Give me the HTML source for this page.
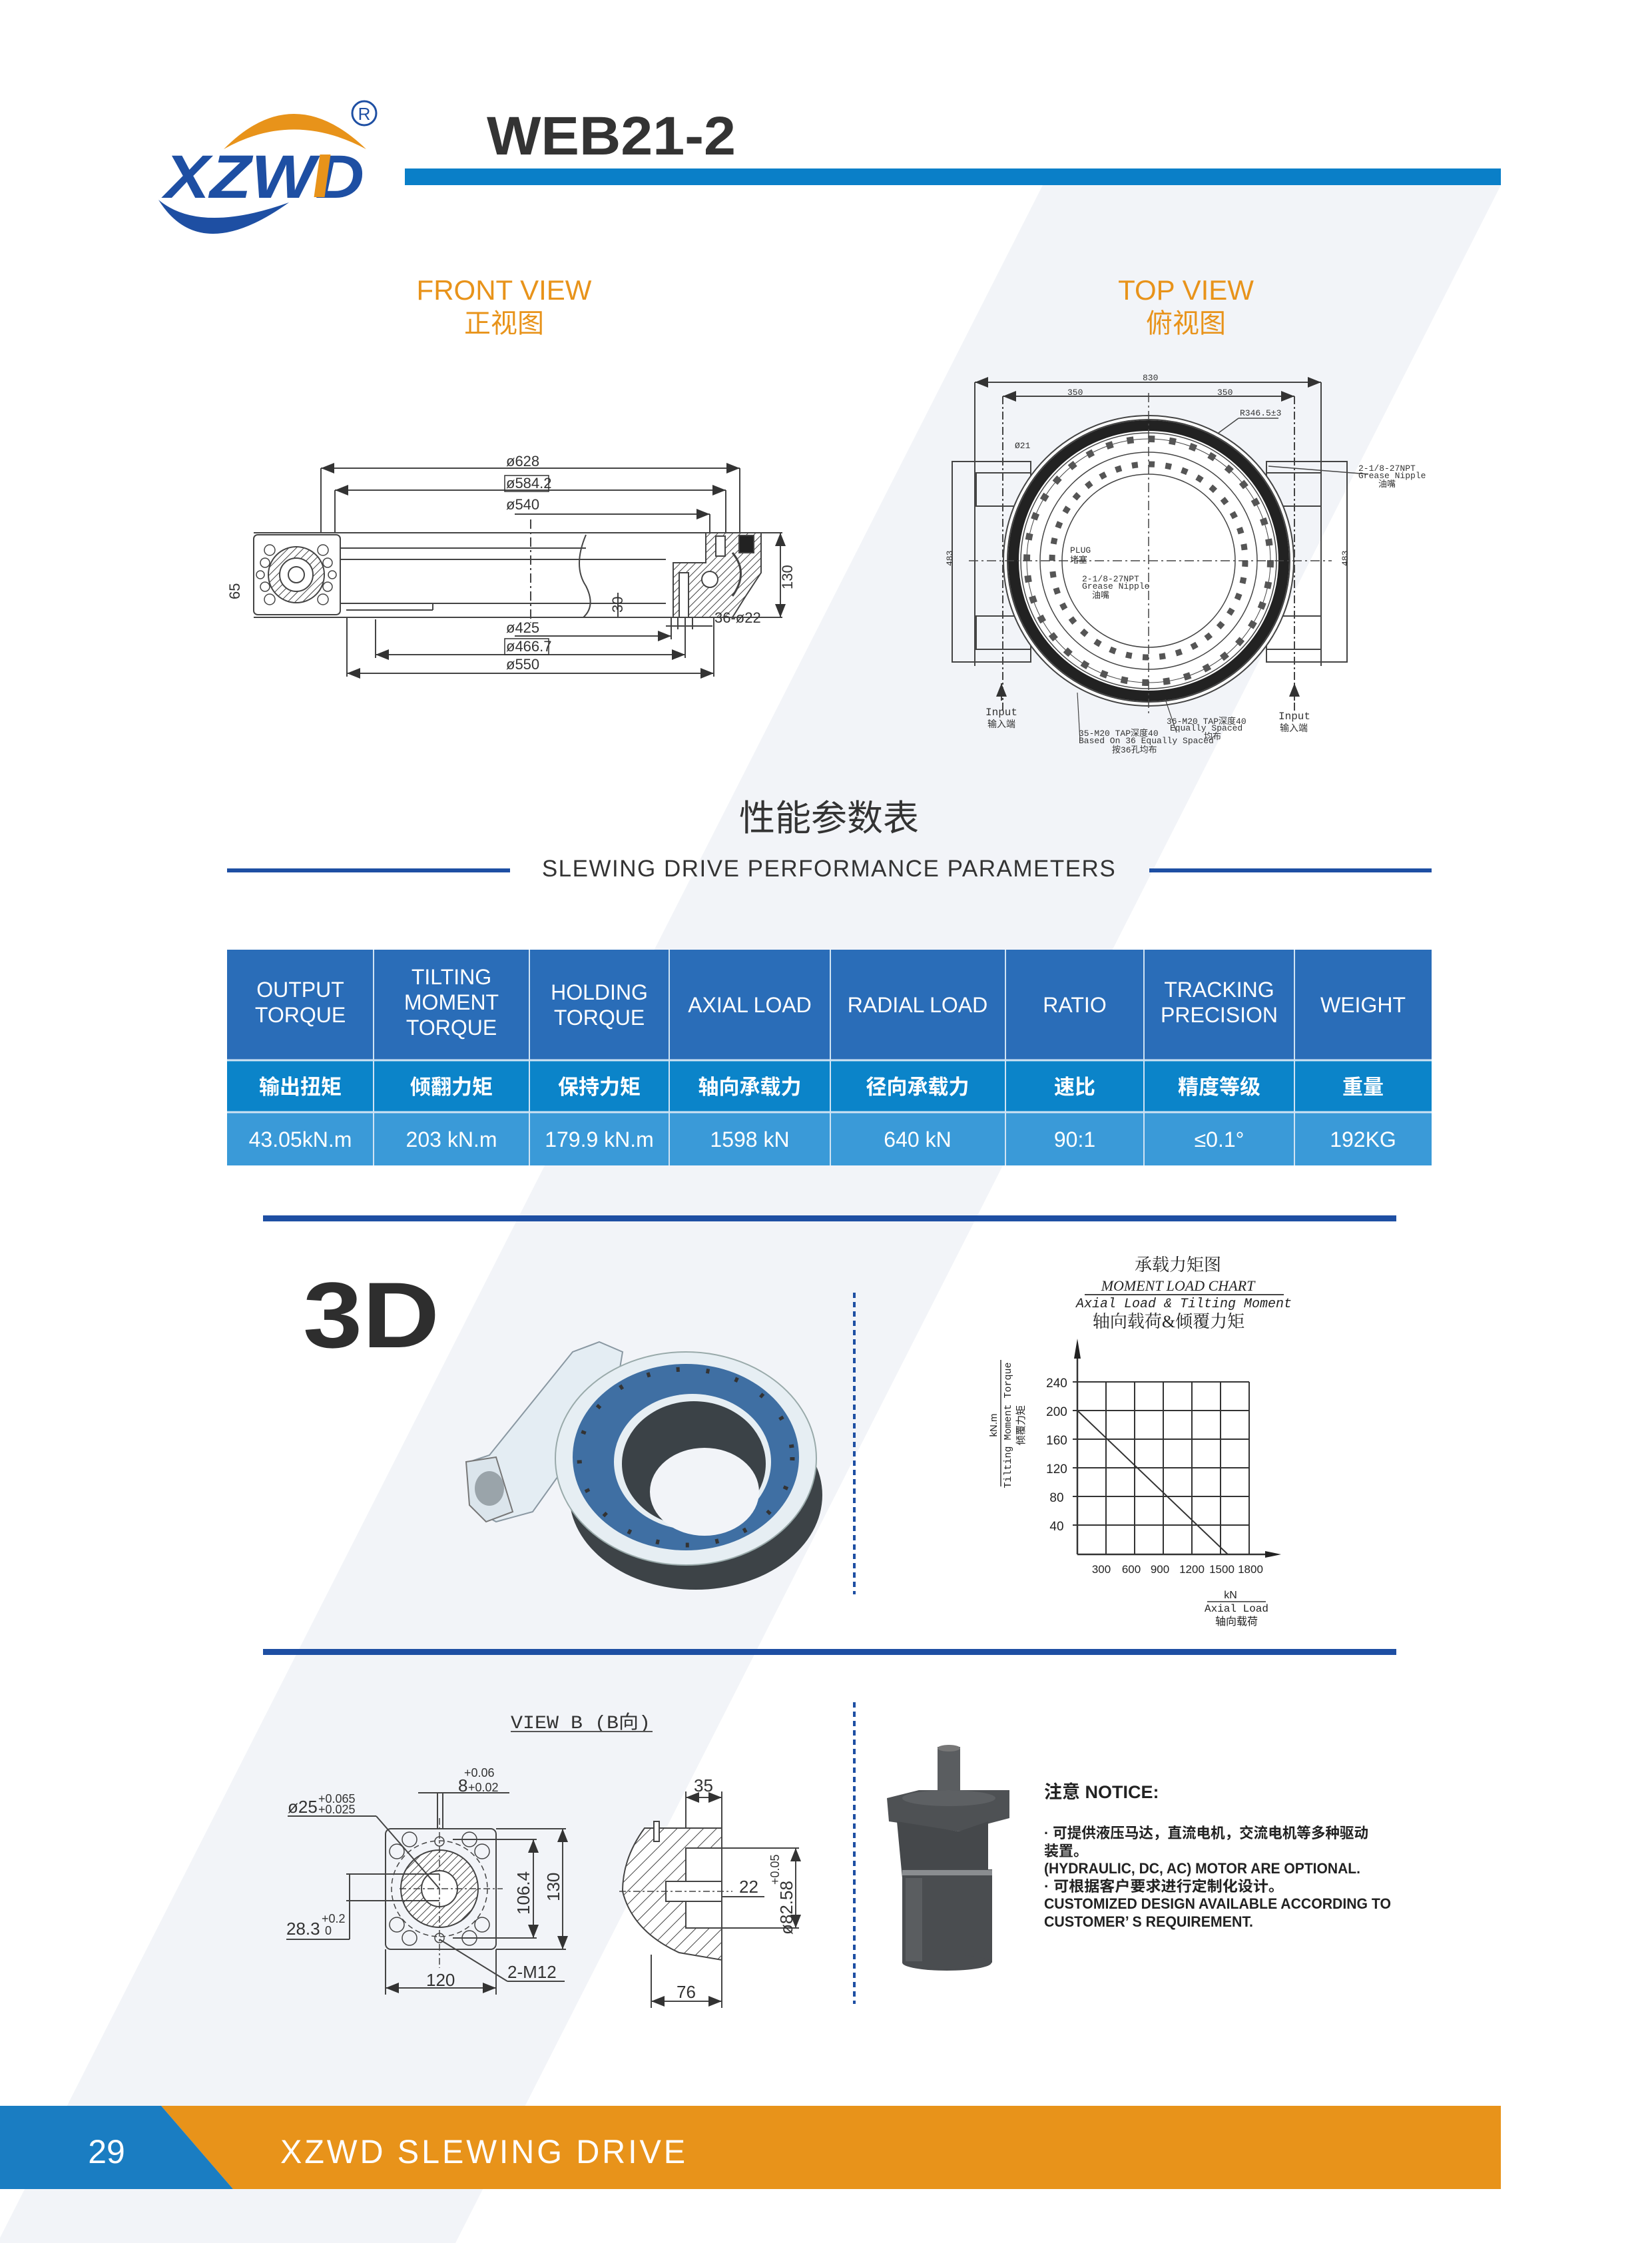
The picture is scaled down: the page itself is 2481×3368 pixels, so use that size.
<!DOCTYPE html>
<html><head><meta charset="utf-8"><style>html,body{margin:0;padding:0;background:#fff}svg{display:block}</style></head>
<body>
<svg width="2481" height="3368" viewBox="0 0 2481 3368" xmlns="http://www.w3.org/2000/svg" font-family="'Liberation Sans','Noto Sans CJK SC',sans-serif">
<defs>
<pattern id="hatch" width="8" height="8" patternUnits="userSpaceOnUse" patternTransform="rotate(45)"><rect width="8" height="8" fill="#fff"/><line x1="0" y1="0" x2="0" y2="8" stroke="#444" stroke-width="2"/></pattern>
<pattern id="hatch2" width="14" height="14" patternUnits="userSpaceOnUse" patternTransform="rotate(45)"><rect width="14" height="14" fill="#fff"/><line x1="0" y1="0" x2="0" y2="14" stroke="#444" stroke-width="2"/></pattern>
<marker id="ar" markerWidth="10" markerHeight="8" refX="10" refY="4" orient="auto-start-reverse"><path d="M0,0 L10,4 L0,8 Z" fill="#333"/></marker>
</defs>
<rect width="2481" height="3368" fill="#fff"/>
<polygon points="1566,278 2254,278 684,3368 -4,3368" fill="#f2f4f8"/>

<!-- Logo -->
<path d="M336 224 Q440 118 550 224 Q440 165 336 224 Z" fill="#e8931a"/>
<path d="M238 300 Q300 400 434 304 Q300 352 238 300 Z" fill="#1e4fa3"/>
<text x="247" y="297" font-size="92" font-weight="bold" font-style="italic" fill="#1e4fa3" textLength="300" lengthAdjust="spacingAndGlyphs">XZWD</text>
<rect x="476" y="232" width="16" height="64" fill="#e8931a" transform="skewX(-8)" transform-origin="484 264"/>
<circle cx="547" cy="170" r="18" fill="none" stroke="#1e4fa3" stroke-width="3"/>
<text x="547" y="180" font-size="26" fill="#1e4fa3" text-anchor="middle">R</text>

<text x="731" y="232" font-size="82" font-weight="bold" fill="#333" textLength="374" lengthAdjust="spacingAndGlyphs">WEB21-2</text>
<rect x="608" y="253" width="1646" height="25" fill="#0a7fc8"/>

<g fill="#e8931a" font-size="42" text-anchor="middle">
<text x="757" y="450">FRONT VIEW</text>
<text x="757" y="499" font-size="40">正视图</text>
<text x="1781" y="450">TOP VIEW</text>
<text x="1781" y="499" font-size="40">俯视图</text>
</g>

<!-- FRONT VIEW drawing -->
<g stroke="#444" stroke-width="2" fill="none" font-size="20">
<line x1="482" y1="703" x2="1111" y2="703" marker-start="url(#ar)" marker-end="url(#ar)"/>
<line x1="482" y1="703" x2="482" y2="800"/><line x1="1111" y1="703" x2="1111" y2="800"/>
<line x1="503" y1="736" x2="1090" y2="736" marker-start="url(#ar)" marker-end="url(#ar)"/>
<line x1="503" y1="736" x2="503" y2="800"/><line x1="1090" y1="736" x2="1090" y2="800"/>
<line x1="773" y1="772" x2="1066" y2="772" marker-end="url(#ar)"/>
<line x1="1066" y1="772" x2="1066" y2="830"/>
<line x1="381" y1="800" x2="1175" y2="800"/>
<line x1="381" y1="927" x2="1175" y2="927"/>
<rect x="381" y="803" width="130" height="120" rx="6"/>
<circle cx="445" cy="863" r="42" fill="url(#hatch)"/>
<circle cx="445" cy="863" r="25" fill="#fff"/>
<circle cx="445" cy="863" r="12"/>
<g stroke-width="1.5"><circle cx="405" cy="826" r="8"/><circle cx="485" cy="826" r="8"/><circle cx="405" cy="900" r="8"/><circle cx="485" cy="900" r="8"/><circle cx="391" cy="863" r="6"/><circle cx="499" cy="863" r="6"/><circle cx="398" cy="845" r="7"/><circle cx="492" cy="845" r="7"/><circle cx="398" cy="881" r="7"/><circle cx="492" cy="881" r="7"/></g>
<line x1="511" y1="823" x2="880" y2="823"/><line x1="511" y1="840" x2="880" y2="840"/>
<line x1="511" y1="906" x2="1000" y2="906"/>
<path d="M880 803 Q860 850 880 880 Q895 910 876 927"/>
<line x1="520" y1="916" x2="650" y2="916"/><line x1="650" y1="906" x2="650" y2="916"/>
<line x1="773" y1="840" x2="1000" y2="840"/>
<line x1="797" y1="780" x2="797" y2="935" stroke-dasharray="14 5 3 5"/>
<path d="M1011 845 L1060 845 L1060 800 L1143 800 L1143 860 L1120 895 L1100 927 L1011 927 Z" fill="url(#hatch)"/>
<rect x="1020" y="860" width="14" height="67" fill="#fff"/>
<circle cx="1066" cy="870" r="12" fill="#fff"/>
<rect x="1075" y="805" width="14" height="30" fill="#fff"/>
<path d="M1100 830 Q1125 860 1100 895" stroke-width="3"/>
<rect x="1110" y="804" width="22" height="26" fill="#222"/>
<line x1="1172" y1="800" x2="1172" y2="927" marker-start="url(#ar)" marker-end="url(#ar)"/>
<line x1="928" y1="890" x2="928" y2="927"/>
<line x1="773" y1="955" x2="1008" y2="955" marker-end="url(#ar)"/>
<line x1="1008" y1="927" x2="1008" y2="960"/><line x1="1018" y1="927" x2="1018" y2="945"/><line x1="1040" y1="927" x2="1040" y2="945"/>
<line x1="1000" y1="940" x2="1070" y2="940"/>
<line x1="564" y1="983" x2="1029" y2="983" marker-start="url(#ar)" marker-end="url(#ar)"/>
<line x1="564" y1="930" x2="564" y2="988"/><line x1="1029" y1="927" x2="1029" y2="988"/>
<line x1="521" y1="1011" x2="1072" y2="1011" marker-start="url(#ar)" marker-end="url(#ar)"/>
<line x1="521" y1="927" x2="521" y2="1016"/><line x1="1072" y1="927" x2="1072" y2="1016"/>
</g>
<g font-size="22" fill="#333">
<text x="760" y="700">ø628</text>
<text x="760" y="733">ø584.2</text><rect x="758" y="714" width="66" height="24" fill="none" stroke="#333" stroke-width="1.5"/>
<text x="760" y="765">ø540</text>
<text x="760" y="950">ø425</text>
<text x="760" y="978">ø466.7</text><rect x="758" y="959" width="66" height="24" fill="none" stroke="#333" stroke-width="1.5"/>
<text x="760" y="1005">ø550</text>
<text x="1073" y="935">36-ø22</text>
<text transform="translate(1190,885) rotate(-90)">130</text>
<text transform="translate(935,920) rotate(-90)">30</text>
<text transform="translate(360,900) rotate(-90)">65</text>
</g>

<!-- TOP VIEW drawing -->
<g stroke="#444" stroke-width="2" fill="none">
<line x1="1464" y1="574" x2="1984" y2="574" marker-start="url(#ar)" marker-end="url(#ar)"/>
<line x1="1464" y1="574" x2="1464" y2="1000"/><line x1="1984" y1="574" x2="1984" y2="1000"/>
<line x1="1506" y1="595" x2="1944" y2="595" marker-start="url(#ar)" marker-end="url(#ar)"/>
<line x1="1506" y1="595" x2="1506" y2="1070" stroke-dasharray="12 4 3 4"/><line x1="1944" y1="595" x2="1944" y2="1070" stroke-dasharray="12 4 3 4"/>
<rect x="1430" y="693" width="118" height="301"/>
<rect x="1466" y="710" width="82" height="50"/><rect x="1466" y="925" width="82" height="50"/>
<rect x="1902" y="693" width="121" height="301"/>
<rect x="1902" y="710" width="82" height="50"/><rect x="1902" y="925" width="82" height="50"/>
<circle cx="1725" cy="842" r="218" fill="#fff"/>
<circle cx="1725" cy="842" r="212"/>
<circle cx="1725" cy="842" r="203" stroke="#222" stroke-width="16"/>
<circle cx="1725" cy="842" r="192" stroke-width="1.5"/>
<circle cx="1725" cy="842" r="183" stroke-width="1" />
<circle cx="1725" cy="842" r="183" stroke="#555" stroke-width="10" stroke-dasharray="10 21.9"/>
<circle cx="1725" cy="842" r="163" stroke-width="1.5"/>
<circle cx="1725" cy="842" r="145" stroke="#555" stroke-width="9" stroke-dasharray="9 16.3"/>
<circle cx="1725" cy="842" r="130" stroke-width="1.5"/>
<line x1="1725" y1="590" x2="1725" y2="1075" stroke-dasharray="14 5 3 5" stroke-width="1.5"/>
<line x1="1455" y1="842" x2="2000" y2="842" stroke-dasharray="14 5 3 5" stroke-width="1.5"/>
<line x1="1504" y1="1026" x2="1504" y2="1052" marker-start="url(#ar)"/>
<line x1="1944" y1="1026" x2="1944" y2="1052" marker-start="url(#ar)"/>
<line x1="1860" y1="628" x2="1830" y2="650" stroke-width="1.5"/><line x1="1860" y1="628" x2="1920" y2="628" stroke-width="1.5"/>
<line x1="1905" y1="700" x2="2055" y2="712" stroke-width="1.5"/>
<line x1="1750" y1="1050" x2="1767" y2="1100" stroke-width="1.2"/>
<line x1="1618" y1="1040" x2="1622" y2="1112" stroke-width="1.2"/>
</g>
<g font-size="13" fill="#333" font-family="'Liberation Mono','Noto Sans CJK SC',monospace">
<text x="1716" y="571">830</text><text x="1603" y="593">350</text><text x="1828" y="593">350</text>
<text x="1862" y="624">R346.5±3</text>
<text x="1524" y="673">Ø21</text>
<text x="2040" y="707">2-1/8-27NPT</text><text x="2040" y="718">Grease Nipple</text><text x="2070" y="731">油嘴</text>
<text x="1607" y="830">PLUG</text><text x="1607" y="845">堵塞</text>
<text x="1625" y="873">2-1/8-27NPT</text><text x="1625" y="884">Grease Nipple</text><text x="1640" y="898">油嘴</text>
<text x="1480" y="1074" font-size="16">Input</text><text x="1483" y="1092" font-size="14">输入端</text>
<text x="1920" y="1080" font-size="16">Input</text><text x="1922" y="1098" font-size="14">输入端</text>
<text x="1752" y="1087">36-M20 TAP深度40</text><text x="1757" y="1097">Equally Spaced</text><text x="1808" y="1110">均布</text>
<text x="1620" y="1105">35-M20 TAP深度40</text><text x="1620" y="1116">Based On 36 Equally Spaced</text><text x="1670" y="1130">按36孔均布</text>
<text transform="translate(1430,850) rotate(-90)">483</text>
<text transform="translate(2024,850) rotate(-90)">483</text>
</g>

<!-- Performance parameters heading -->
<text x="1245" y="1247" font-size="54" fill="#333" text-anchor="middle">性能参数表</text>
<text x="1245" y="1316" font-size="35" fill="#333" text-anchor="middle" letter-spacing="1.5">SLEWING DRIVE PERFORMANCE PARAMETERS</text>
<rect x="341" y="1304" width="425" height="6" fill="#1e4fa3"/>
<rect x="1726" y="1304" width="424" height="6" fill="#1e4fa3"/>

<!-- Table -->
<rect x="341" y="1426" width="1809" height="166" fill="#2a6db8"/>
<rect x="341" y="1592" width="1809" height="78" fill="#0b84c9"/>
<rect x="341" y="1670" width="1809" height="80" fill="#3a9ad8"/>
<g stroke="#cfe3f3" stroke-width="2">
<line x1="561" y1="1426" x2="561" y2="1750"/><line x1="795" y1="1426" x2="795" y2="1750"/><line x1="1005" y1="1426" x2="1005" y2="1750"/><line x1="1247" y1="1426" x2="1247" y2="1750"/><line x1="1510" y1="1426" x2="1510" y2="1750"/><line x1="1718" y1="1426" x2="1718" y2="1750"/><line x1="1944" y1="1426" x2="1944" y2="1750"/>
<line x1="341" y1="1592" x2="2150" y2="1592" stroke-width="3"/><line x1="341" y1="1670" x2="2150" y2="1670" stroke-width="3"/>
</g>
<g fill="#fff" font-size="32" text-anchor="middle">
<text x="451" y="1497">OUTPUT</text><text x="451" y="1535">TORQUE</text>
<text x="678" y="1478">TILTING</text><text x="678" y="1516">MOMENT</text><text x="678" y="1554">TORQUE</text>
<text x="900" y="1501">HOLDING</text><text x="900" y="1539">TORQUE</text>
<text x="1126" y="1520">AXIAL LOAD</text>
<text x="1378" y="1520">RADIAL LOAD</text>
<text x="1614" y="1520">RATIO</text>
<text x="1831" y="1497">TRACKING</text><text x="1831" y="1535">PRECISION</text>
<text x="2047" y="1520">WEIGHT</text>
<g font-weight="bold" font-size="31">
<text x="451" y="1643">输出扭矩</text><text x="678" y="1643">倾翻力矩</text><text x="900" y="1643">保持力矩</text><text x="1126" y="1643">轴向承载力</text><text x="1378" y="1643">径向承载力</text><text x="1614" y="1643">速比</text><text x="1831" y="1643">精度等级</text><text x="2047" y="1643">重量</text>
</g>
<text x="451" y="1722">43.05kN.m</text><text x="678" y="1722">203 kN.m</text><text x="900" y="1722">179.9 kN.m</text><text x="1126" y="1722">1598 kN</text><text x="1378" y="1722">640 kN</text><text x="1614" y="1722">90:1</text><text x="1831" y="1722">≤0.1°</text><text x="2047" y="1722">192KG</text>
</g>

<rect x="395" y="1825" width="1702" height="9" fill="#1e4fa3"/>
<rect x="395" y="2476" width="1702" height="9" fill="#1e4fa3"/>
<line x1="1283" y1="1941" x2="1283" y2="2394" stroke="#1e4fa3" stroke-width="4" stroke-dasharray="8 6"/>
<line x1="1283" y1="2556" x2="1283" y2="3009" stroke="#1e4fa3" stroke-width="4" stroke-dasharray="8 6"/>

<!-- 3D -->
<text x="455" y="2023" font-size="140" font-weight="bold" fill="#2e2e2e" textLength="205" lengthAdjust="spacingAndGlyphs">3D</text>
<g>
<path d="M705 2195 L735 2185 L860 2030 L900 2015 L935 2030 L930 2060 L850 2200 L800 2270 L745 2285 L710 2265 Z" fill="#e4edf3" stroke="#8a98a2" stroke-width="2"/>
<path d="M700 2195 L745 2188 L770 2270 L730 2285 L705 2260 Z" fill="#dbe5ec" stroke="#777" stroke-width="2"/>
<ellipse cx="735" cy="2235" rx="22" ry="26" fill="#9aa4aa"/>
<ellipse cx="1045" cy="2245" rx="190" ry="142" fill="#3d4347"/>
<ellipse cx="1030" cy="2190" rx="196" ry="160" fill="#e6eef3" stroke="#9aa" stroke-width="2"/>
<ellipse cx="1030" cy="2188" rx="170" ry="140" fill="#3f6fa3"/>
<ellipse cx="1030" cy="2188" rx="160" ry="132" fill="none" stroke="#333" stroke-width="7" stroke-dasharray="5 40"/>
<ellipse cx="1040" cy="2195" rx="118" ry="102" fill="#e6eef3"/>
<ellipse cx="1042" cy="2198" rx="108" ry="94" fill="#3b4247"/>
<ellipse cx="1058" cy="2240" rx="82" ry="66" fill="#f2f4f8"/>
</g>

<!-- Chart -->
<g font-family="'Liberation Serif','Noto Serif CJK SC',serif" fill="#222">
<text x="1769" y="1908" font-size="26" text-anchor="middle">承载力矩图</text>
<text x="1769" y="1938" font-size="22" font-style="italic" text-anchor="middle">MOMENT LOAD CHART</text>
<text x="1778" y="1963" font-size="20" font-style="italic" text-anchor="middle" font-family="'Liberation Mono',monospace">Axial Load &amp; Tilting Moment</text>
<text x="1755" y="1993" font-size="26" text-anchor="middle">轴向载荷&amp;倾覆力矩</text>
<line x1="1629" y1="1944" x2="1928" y2="1944" stroke="#444" stroke-width="2"/>
</g>
<g stroke="#333" stroke-width="2" fill="none">
<line x1="1611" y1="2075" x2="1876" y2="2075"/><line x1="1611" y1="2118" x2="1876" y2="2118"/><line x1="1611" y1="2161" x2="1876" y2="2161"/><line x1="1611" y1="2204" x2="1876" y2="2204"/><line x1="1611" y1="2247" x2="1876" y2="2247"/><line x1="1611" y1="2290" x2="1876" y2="2290"/>
<line x1="1661" y1="2075" x2="1661" y2="2334"/><line x1="1704" y1="2075" x2="1704" y2="2334"/><line x1="1747" y1="2075" x2="1747" y2="2334"/><line x1="1790" y1="2075" x2="1790" y2="2334"/><line x1="1833" y1="2075" x2="1833" y2="2334"/><line x1="1876" y1="2075" x2="1876" y2="2334"/>
<line x1="1618" y1="2334" x2="1618" y2="2020" stroke-width="2.5"/>
<line x1="1618" y1="2334" x2="1910" y2="2334" stroke-width="2.5"/>
<line x1="1618" y1="2118" x2="1844" y2="2334"/>
<line x1="1503" y1="2042" x2="1503" y2="2232" stroke-width="1.5"/>
<line x1="1813" y1="2405" x2="1901" y2="2405" stroke-width="1.5"/>
</g>
<path d="M1613 2040 L1618 2010 L1623 2040 Z" fill="#222"/>
<path d="M1900 2329 L1924 2334 L1900 2339 Z" fill="#222"/>
<g font-size="19" fill="#222">
<text x="1587" y="2083" text-anchor="middle">240</text><text x="1587" y="2126" text-anchor="middle">200</text><text x="1587" y="2169" text-anchor="middle">160</text><text x="1587" y="2212" text-anchor="middle">120</text><text x="1587" y="2255" text-anchor="middle">80</text><text x="1587" y="2298" text-anchor="middle">40</text>
<g font-size="17"><text x="1654" y="2362" text-anchor="middle">300</text><text x="1699" y="2362" text-anchor="middle">600</text><text x="1742" y="2362" text-anchor="middle">900</text><text x="1790" y="2362" text-anchor="middle">1200</text><text x="1835" y="2362" text-anchor="middle">1500</text><text x="1878" y="2362" text-anchor="middle">1800</text></g>
<text x="1848" y="2400" text-anchor="middle" font-size="16">kN</text>
<text x="1857" y="2420" text-anchor="middle" font-size="16" font-family="'Liberation Mono',monospace">Axial Load</text>
<text x="1857" y="2440" text-anchor="middle" font-size="16">轴向载荷</text>
<text transform="translate(1497,2140) rotate(-90)" text-anchor="middle" font-size="15">kN.m</text>
<text transform="translate(1518,2140) rotate(-90)" text-anchor="middle" font-size="15" font-family="'Liberation Mono',monospace">Tilting Moment Torque</text>
<text transform="translate(1538,2140) rotate(-90)" text-anchor="middle" font-size="15">倾覆力矩</text>
</g>

<!-- VIEW B -->
<g font-family="'Liberation Mono','Noto Sans CJK SC',monospace" fill="#333">
<text x="767" y="2595" font-size="28" textLength="210" lengthAdjust="spacingAndGlyphs">VIEW B (B向)</text>
</g>
<line x1="767" y1="2600" x2="980" y2="2600" stroke="#555" stroke-width="2"/>
<g stroke="#444" stroke-width="2" fill="none">
<rect x="579" y="2746" width="166" height="181" rx="8"/>
<circle cx="660" cy="2836" r="58" fill="url(#hatch)"/>
<circle cx="660" cy="2836" r="27" fill="#fff"/>
<circle cx="660" cy="2836" r="72" stroke-dasharray="8 5" stroke-width="1.5"/>
<g stroke-width="1.5"><circle cx="615" cy="2762" r="11"/><circle cx="705" cy="2762" r="11"/><circle cx="596" cy="2780" r="11"/><circle cx="724" cy="2780" r="11"/><circle cx="596" cy="2890" r="11"/><circle cx="724" cy="2890" r="11"/><circle cx="615" cy="2910" r="11"/><circle cx="705" cy="2910" r="11"/><circle cx="660" cy="2765" r="7"/><circle cx="660" cy="2910" r="7"/></g>
<line x1="600" y1="2836" x2="755" y2="2836" stroke-dasharray="10 4 3 4" stroke-width="1.5"/>
<line x1="660" y1="2730" x2="660" y2="2955" stroke-dasharray="10 4 3 4" stroke-width="1.5"/>
<line x1="745" y1="2746" x2="850" y2="2746"/><line x1="745" y1="2927" x2="850" y2="2927"/>
<line x1="845" y1="2746" x2="845" y2="2927" marker-start="url(#ar)" marker-end="url(#ar)"/>
<line x1="680" y1="2762" x2="806" y2="2762"/><line x1="680" y1="2910" x2="806" y2="2910"/>
<line x1="801" y1="2762" x2="801" y2="2910" marker-start="url(#ar)" marker-end="url(#ar)"/>
<line x1="579" y1="2927" x2="579" y2="2995"/><line x1="745" y1="2927" x2="745" y2="2995"/>
<line x1="579" y1="2985" x2="745" y2="2985" marker-start="url(#ar)" marker-end="url(#ar)"/>
<line x1="520" y1="2814" x2="660" y2="2814"/><line x1="520" y1="2854" x2="660" y2="2854"/>
<line x1="525" y1="2814" x2="525" y2="2912"/>
<line x1="430" y1="2912" x2="525" y2="2912"/>
<line x1="432" y1="2727" x2="565" y2="2727"/><line x1="565" y1="2727" x2="660" y2="2836"/>
<line x1="628" y1="2692" x2="765" y2="2692"/>
<line x1="657" y1="2692" x2="657" y2="2745"/><line x1="665" y1="2692" x2="665" y2="2745"/>
<line x1="660" y1="2912" x2="762" y2="2975"/><line x1="762" y1="2975" x2="848" y2="2975"/>
<path d="M968 2745 L1084 2745 L1084 2943 L1020 2932 Q950 2900 935 2840 Q935 2790 968 2745 Z" fill="url(#hatch2)"/>
<rect x="1030" y="2775" width="54" height="120" fill="#fff"/>
<rect x="1000" y="2825" width="84" height="30" fill="#fff"/>
<line x1="930" y1="2840" x2="1100" y2="2840" stroke-dasharray="10 4 3 4" stroke-width="1.5"/>
<line x1="1030" y1="2690" x2="1030" y2="2745"/><line x1="1084" y1="2690" x2="1084" y2="3015"/>
<line x1="1030" y1="2699" x2="1084" y2="2699" marker-start="url(#ar)" marker-end="url(#ar)"/>
<line x1="978" y1="2935" x2="978" y2="3015"/>
<line x1="978" y1="3005" x2="1084" y2="3005" marker-start="url(#ar)" marker-end="url(#ar)"/>
<line x1="1084" y1="2775" x2="1200" y2="2775"/><line x1="1084" y1="2895" x2="1200" y2="2895"/>
<line x1="1195" y1="2775" x2="1195" y2="2895" marker-start="url(#ar)" marker-end="url(#ar)"/>
<line x1="1085" y1="2848" x2="1148" y2="2848"/>
<rect x="982" y="2735" width="8" height="30" fill="#fff"/>
</g>
<g font-size="26" fill="#333">
<text x="432" y="2722">ø25</text><text x="478" y="2707" font-size="18">+0.065</text><text x="478" y="2723" font-size="18">+0.025</text>
<text x="697" y="2668" font-size="18">+0.06</text><text x="688" y="2690">8</text><text x="703" y="2690" font-size="18">+0.02</text>
<text x="430" y="2905">28.3</text><text x="483" y="2887" font-size="18">+0.2</text><text x="488" y="2905" font-size="18">0</text>
<text x="762" y="2970">2-M12</text>
<text x="640" y="2982">120</text>
<text transform="translate(795,2875) rotate(-90)">106.4</text>
<text transform="translate(840,2855) rotate(-90)">130</text>
<text x="1042" y="2690">35</text>
<text x="1016" y="3000">76</text>
<text x="1110" y="2842">22</text>
<text transform="translate(1190,2905) rotate(-90)">ø82.58</text>
<text transform="translate(1170,2830) rotate(-90)" font-size="18">+0.05</text>
</g>

<!-- Motor -->
<g>
<rect x="1408" y="2623" width="34" height="80" fill="#5a5d60"/>
<ellipse cx="1425" cy="2625" rx="17" ry="5" fill="#777"/>
<path d="M1332 2700 L1380 2688 L1516 2688 L1516 2730 L1440 2750 L1335 2735 Z" fill="#4e5154"/>
<ellipse cx="1425" cy="2700" rx="70" ry="12" fill="#5d6063"/>
<path d="M1347 2735 L1440 2750 L1484 2735 L1484 2823 L1440 2836 L1355 2820 Z" fill="#45484b"/>
<rect x="1355" y="2807" width="135" height="140" fill="#4a4d50"/>
<ellipse cx="1422" cy="2947" rx="67" ry="12" fill="#4a4d50"/>
<rect x="1355" y="2808" width="135" height="8" fill="#8a8d90"/>
<rect x="1360" y="2820" width="25" height="125" fill="#5a5d60"/>
</g>
<g fill="#222" font-weight="bold">
<text x="1568" y="2700" font-size="27">注意 NOTICE:</text>
<g font-size="22">
<text x="1568" y="2760" textLength="487" lengthAdjust="spacingAndGlyphs">· 可提供液压马达，直流电机，交流电机等多种驱动</text>
<text x="1568" y="2787">装置。</text>
<text x="1568" y="2813" textLength="475" lengthAdjust="spacingAndGlyphs">(HYDRAULIC, DC, AC) MOTOR ARE OPTIONAL.</text>
<text x="1568" y="2840" textLength="360" lengthAdjust="spacingAndGlyphs">· 可根据客户要求进行定制化设计。</text>
<text x="1568" y="2866" textLength="521" lengthAdjust="spacingAndGlyphs">CUSTOMIZED DESIGN AVAILABLE ACCORDING TO</text>
<text x="1568" y="2893" textLength="314" lengthAdjust="spacingAndGlyphs">CUSTOMER’ S REQUIREMENT.</text>
</g>
</g>

<!-- Footer -->
<polygon points="242,3162 2254,3162 2254,3287 350,3287" fill="#e8931a"/>
<polygon points="0,3162 242,3162 350,3287 0,3287" fill="#1a7dc2"/>
<text x="160" y="3248" font-size="50" fill="#fff" text-anchor="middle">29</text>
<text x="421" y="3248" font-size="50" fill="#fff" textLength="612" lengthAdjust="spacingAndGlyphs" letter-spacing="4">XZWD SLEWING DRIVE</text>
</svg>
</body></html>
